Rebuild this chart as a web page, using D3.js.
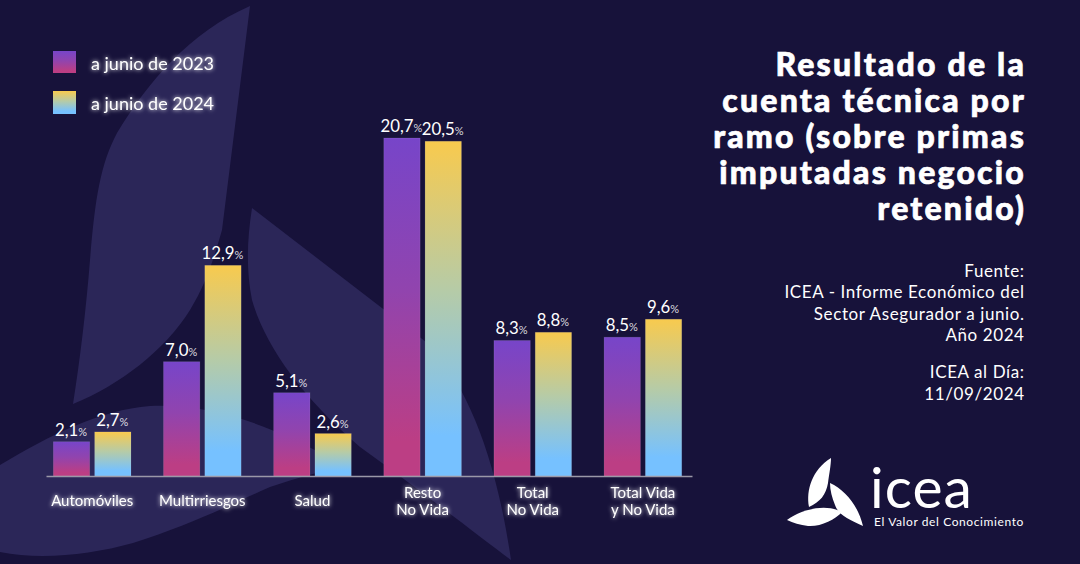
<!DOCTYPE html>
<html>
<head>
<meta charset="utf-8">
<script src="https://cdn.jsdelivr.net/npm/d3@7"></script>
<style>
  html, body { margin: 0; padding: 0; background: #17123a; }
  svg { display: block; }
  text { font-family: Lato, "Open Sans", sans-serif; fill: #fff; }
</style>
</head>
<body>
<div id="chart"></div>
<script>
var categories = ['Automóviles', 'Multirriesgos', 'Salud', 'Resto\nNo Vida', 'Total\nNo Vida', 'Total Vida\ny No Vida'];
var series = ['a junio de 2023', 'a junio de 2024'];
var values2023 = [2.1, 7.0, 5.1, 20.7, 8.3, 8.5];
var values2024 = [2.7, 12.9, 2.6, 20.5, 8.8, 9.6];
var titleLines = ['Resultado de la', 'cuenta técnica por', 'ramo (sobre primas', 'imputadas negocio', 'retenido)'];
var sourceLines = ['Fuente:', 'ICEA - Informe Económico del', 'Sector Asegurador a junio.', 'Año 2024'];
var dateLines = ['ICEA al Día:', '11/09/2024'];

var width = 1080, height = 564;
var baseline = 476;

var svg = d3.select('#chart').append('svg')
    .attr('width', width)
    .attr('height', height);

var defs = svg.append('defs');

function gradient(id, stops) {
  var g = defs.append('linearGradient')
      .attr('id', id)
      .attr('x1', 0).attr('y1', 0)
      .attr('x2', 0).attr('y2', 1);
  stops.forEach(function(s) {
    g.append('stop').attr('offset', s[0]).attr('stop-color', s[1]);
  });
}
gradient('grad2023', [[0, '#7745c9'], [0.45, '#9144ae'], [0.9, '#bc3e84'], [1, '#bc3e84']]);
gradient('grad2024', [[0, '#f8ca4e'], [0.45, '#b5cba8'], [0.88, '#76c1ff'], [1, '#76c1ff']]);

var glow = defs.append('filter')
    .attr('id', 'glow')
    .attr('x', '-20%').attr('y', '-50%')
    .attr('width', '140%').attr('height', '200%');
glow.append('feGaussianBlur').attr('stdDeviation', 2.2).attr('result', 'b');
var merge = glow.append('feMerge');
merge.append('feMergeNode').attr('in', 'b');
merge.append('feMergeNode').attr('in', 'SourceGraphic');

// background leaves
var leaves = [
  'M250,6 C190,32 148,82 117,133 C100,165 95,200 90,260 C86,310 80,360 73,404 C120,385 165,350 190,310 C205,285 212,265 222,230 Z',
  'M252,208 L430,345 C465,385 495,450 511,560 C480,537 420,490 360,447 C300,395 265,345 252,300 C246,270 247,240 252,208 Z',
  'M0,465 C50,435 100,410 150,406 C210,403 270,425 330,458 L345,465 C320,472 300,477 270,487 C230,505 190,525 133,543 C90,555 40,560 0,552 Z'
];
svg.append('g').selectAll('path').data(leaves).enter().append('path')
    .attr('d', function(d) { return d; })
    .attr('fill', '#2b2658');

var x = d3.scaleBand()
    .domain(categories)
    .range([46, 692])
    .paddingInner(0.295)
    .paddingOuter(0.08)
    .align(0.417);

var xInner = d3.scaleBand()
    .domain(series)
    .range([0, x.bandwidth()])
    .paddingInner(0.12);

var y = d3.scaleLinear()
    .domain([0, 20.7])
    .range([baseline, 138]);

var groups = svg.append('g').selectAll('g')
    .data(categories)
    .enter().append('g')
    .attr('transform', function(d) { return 'translate(' + x(d) + ',0)'; });

function drawSeries(name, vals, gradId) {
  groups.append('rect')
      .attr('x', xInner(name))
      .attr('width', xInner.bandwidth())
      .attr('y', function(d, i) { return y(vals[i]); })
      .attr('height', function(d, i) { return baseline - y(vals[i]); })
      .attr('fill', 'url(#' + gradId + ')')
      .attr('stroke', '#ffffff')
      .attr('stroke-opacity', 0.12)
      .attr('stroke-width', 0.8);

  var label = groups.append('text')
      .attr('x', xInner(name) + xInner.bandwidth() / 2 - 0.5)
      .attr('y', function(d, i) { return y(vals[i]) - 6; })
      .attr('text-anchor', 'middle')
      .attr('font-size', 16.8);
  label.append('tspan').text(function(d, i) { return vals[i].toFixed(1).replace('.', ','); });
  label.append('tspan').attr('font-size', 11).attr('fill-opacity', 0.85).text('%');
}
drawSeries(series[0], values2023, 'grad2023');
drawSeries(series[1], values2024, 'grad2024');

// axis
var axis = svg.append('g')
    .attr('transform', 'translate(0,' + baseline + ')')
    .call(d3.axisBottom(x).tickSize(0).tickPadding(0));
axis.select('.domain').attr('stroke', '#9a98a8').attr('stroke-width', 1.4);
axis.selectAll('.tick text')
    .attr('font-size', 15)
    .attr('font-family', 'Lato')
    .attr('fill', '#fff')
    .attr('filter', 'url(#glow)')
    .attr('y', 0)
    .attr('dy', 0)
    .each(function(d) {
      var t = d3.select(this);
      var lines = d.split('\n');
      t.text(null);
      lines.forEach(function(line, i) {
        t.append('tspan')
            .attr('x', 0)
            .attr('y', (lines.length > 1 ? 22 : 30) + i * 17)
            .text(line);
      });
    });

// legend
var legendGrads = ['grad2023', 'grad2024'];
var legend = svg.append('g').selectAll('g').data(series).enter().append('g')
    .attr('transform', function(d, i) { return 'translate(53,' + (51 + i * 40) + ')'; });
legend.append('rect')
    .attr('width', 23)
    .attr('height', function(d, i) { return 22 + i; })
    .attr('fill', function(d, i) { return 'url(#' + legendGrads[i] + ')'; });
legend.append('text')
    .attr('x', 38)
    .attr('y', 19)
    .attr('font-size', 18)
    .attr('filter', 'url(#glow)')
    .text(function(d) { return d; });

// right column text
svg.append('g').selectAll('text').data(titleLines).enter().append('text')
    .attr('x', 1026)
    .attr('y', function(d, i) { return 76 + i * 36; })
    .attr('text-anchor', 'end')
    .attr('font-size', 32)
    .attr('font-weight', 900)
    .attr('letter-spacing', 2.2)
    .attr('stroke', '#fff')
    .attr('stroke-width', 0.7)
    .text(function(d) { return d; });

svg.append('g').selectAll('text').data(sourceLines).enter().append('text')
    .attr('x', 1024.6)
    .attr('y', function(d, i) { return 277 + i * 21.3; })
    .attr('text-anchor', 'end')
    .attr('font-size', 17)
    .attr('letter-spacing', 0.6)
    .text(function(d) { return d; });

svg.append('g').selectAll('text').data(dateLines).enter().append('text')
    .attr('x', 1024.6)
    .attr('y', function(d, i) { return 378 + i * 22; })
    .attr('text-anchor', 'end')
    .attr('font-size', 17)
    .attr('letter-spacing', 0.6)
    .text(function(d) { return d; });

// logo
var logoLeaves = [
  'M831,458 C812,470 806,490 809,507 C820,502 826,495 828,483 C829,475 831,465 831,458 Z',
  'M830,483 C845,490 858,505 863,526 C850,520 838,515 835,505 C832,498 830,490 830,483 Z',
  'M787,520 C800,510 825,503 842,512 C835,520 820,527 808,526 C800,525 793,523 787,520 Z'
];
svg.append('g').selectAll('path').data(logoLeaves).enter().append('path')
    .attr('d', function(d) { return d; })
    .attr('fill', '#fff');
svg.append('text')
    .attr('x', 870)
    .attr('y', 508)
    .attr('font-size', 57)
    .attr('letter-spacing', 1)
    .text('icea');
svg.append('text')
    .attr('x', 874)
    .attr('y', 526)
    .attr('font-size', 12)
    .attr('letter-spacing', 0.6)
    .text('El Valor del Conocimiento');
</script>
</body>
</html>
